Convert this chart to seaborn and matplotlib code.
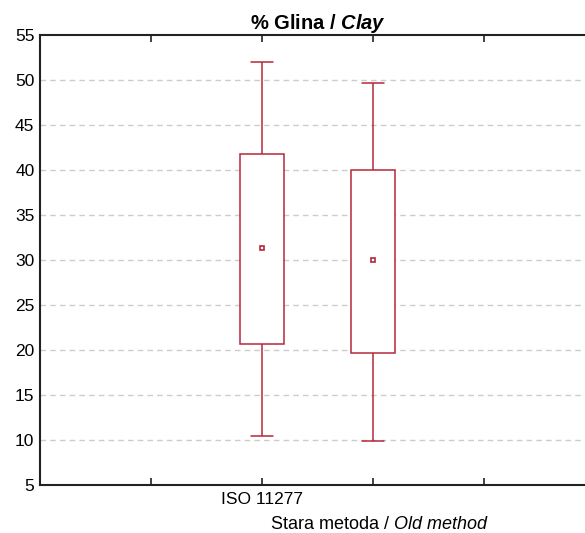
import matplotlib
matplotlib.use("Agg")
import matplotlib.pyplot as plt
import seaborn as sns
import pandas as pd
from matplotlib.transforms import blended_transform_factory, offset_copy

categories = ["ISO 11277", "Stara metoda"]
mins = [10.5, 9.9]
q1s = [20.7, 19.7]
centers = [31.3, 30.0]
q3s = [41.8, 40.0]
maxs = [52.0, 49.7]
yticks = [5, 10, 15, 20, 25, 30, 35, 40, 45, 50, 55]

RED = "#b5283a"

sns.set_style("white")
plt.rcParams["font.family"] = ["Liberation Sans", "DejaVu Sans"]
plt.rcParams["text.color"] = "black"
plt.rcParams["mathtext.fontset"] = "custom"
plt.rcParams["mathtext.rm"] = "Liberation Sans"
plt.rcParams["mathtext.it"] = "Liberation Sans:italic"
plt.rcParams["mathtext.bf"] = "Liberation Sans:bold"
plt.rcParams["mathtext.bfit"] = "Liberation Sans:bold:italic"

rows = []
for c, a, b, m, d, e in zip(categories, mins, q1s, centers, q3s, maxs):
    for v in (a, b, m, d, e):
        rows.append({"group": c, "value": v})
df = pd.DataFrame(rows)

fig = plt.figure(figsize=(5.85, 5.33), dpi=100)
ax = fig.add_axes([40 / 585, 48 / 533, 555 / 585, 450 / 533])

for y in yticks[1:-1]:
    ax.axhline(y, color="#cccccc", lw=1, ls=(0, (4, 3)), zorder=0)

sns.boxplot(data=df, x="group", y="value", order=categories, ax=ax,
            whis=(0, 100), width=0.4, color="white", linecolor=RED,
            linewidth=1.1, showfliers=False,
            medianprops={"visible": False}, zorder=2)

mean_df = pd.DataFrame({"group": categories, "value": centers})
sns.pointplot(data=mean_df, x="group", y="value", order=categories, ax=ax,
              linestyle="none", marker="s", markersize=3.5,
              markerfacecolor="white", markeredgewidth=1.2,
              color=RED, errorbar=None, zorder=5)

ax.set_xlim(-2, 3)
ax.set_ylim(5, 55)
ax.set_yticks(yticks)
ax.set_xticks([-1, 0, 1, 2])
ax.set_xticklabels([])
ax.set_xlabel("")
ax.set_ylabel("")
ax.tick_params(axis="y", length=0, labelsize=12.5, pad=4, colors="black")
ax.tick_params(axis="x", direction="in", length=5, width=1.2, top=True,
               bottom=True, colors="#222222")
for s in ax.spines.values():
    s.set_visible(True)
    s.set_color("#222222")
    s.set_linewidth(1.5)

tr = blended_transform_factory(ax.transData, ax.transAxes)
ax.text(0, -0.015, "ISO 11277", transform=tr, ha="center", va="top",
        fontsize=12.5, color="black")
tr2 = offset_copy(tr, fig=fig, x=6, y=0, units="dots")
ax.text(1, -0.068, "Stara metoda / $\\mathit{Old\\ method}$", transform=tr2,
        ha="center", va="top", fontsize=13, color="black")

ax.set_title("% Glina / $\\mathbfit{Clay}$", fontsize=14.5,
             fontweight="bold", pad=1, color="black")

fig.savefig("out.png", dpi=100)
